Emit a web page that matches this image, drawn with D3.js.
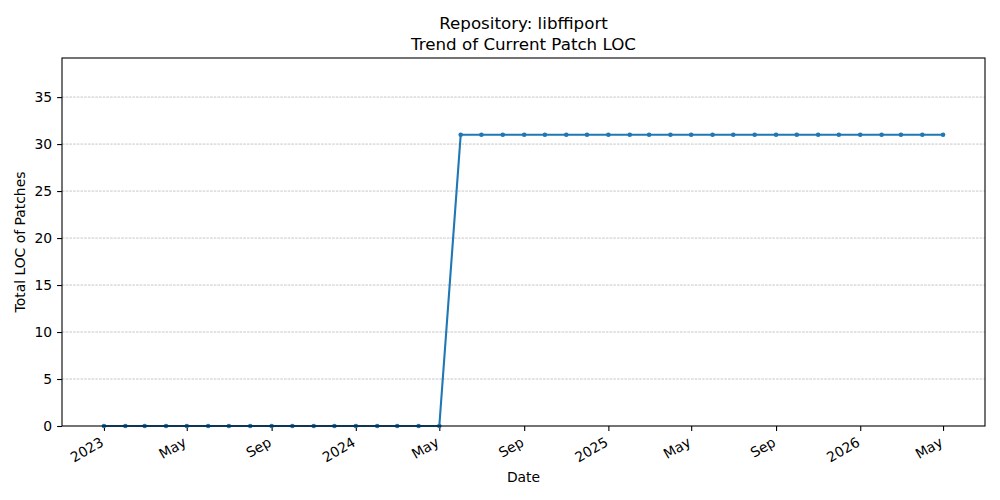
<!DOCTYPE html>
<html>
<head>
<meta charset="utf-8">
<script src="https://cdn.jsdelivr.net/npm/d3@7"></script>
<style>
  body { margin: 0; background: #fff; }
  svg { font-family: "DejaVu Sans", sans-serif; }
</style>
</head>
<body>
<svg id="chart" width="1000" height="500"></svg>
<script>
// dados: um ponto por mês, de jan/2023 até mai/2026
const months = [
  "2023-01","2023-02","2023-03","2023-04","2023-05","2023-06","2023-07","2023-08",
  "2023-09","2023-10","2023-11","2023-12","2024-01","2024-02","2024-03","2024-04",
  "2024-05","2024-06","2024-07","2024-08","2024-09","2024-10","2024-11","2024-12",
  "2025-01","2025-02","2025-03","2025-04","2025-05","2025-06","2025-07","2025-08",
  "2025-09","2025-10","2025-11","2025-12","2026-01","2026-02","2026-03","2026-04",
  "2026-05"
];
const locValues = [
  0,0,0,0,0,0,0,0,0,0,0,0,0,0,0,0,0,
  31,31,31,31,31,31,31,31,31,31,31,31,31,31,31,31,31,31,31,31,31,31,31,31
];
const yTicks = [0, 5, 10, 15, 20, 25, 30, 35];
const xTickDates = ["2023-01","2023-05","2023-09","2024-01","2024-05","2024-09",
                    "2025-01","2025-05","2025-09","2026-01","2026-05"];
const xTickLabels = ["2023","May","Sep","2024","May","Sep","2025","May","Sep","2026","May"];

const parse = d3.utcParse("%Y-%m");
const data = months.map((m, i) => ({ date: parse(m), value: locValues[i] }));

const svg = d3.select("#chart");
const mLeft = 62, mRight = 985, mTop = 58, mBottom = 426;

// margem de 5% como no matplotlib
const [d0, d1] = d3.extent(data, d => d.date);
const pad = (d1 - d0) * 0.05;
const x = d3.scaleUtc().domain([new Date(+d0 - pad), new Date(+d1 + pad)]).range([mLeft, mRight]);
const y = d3.scaleLinear().domain([0, 39.16]).range([mBottom, mTop]);

// grade horizontal
svg.append("g")
  .selectAll("line")
  .data(yTicks.filter(t => t > 0))
  .enter().append("line")
  .attr("x1", mLeft).attr("x2", mRight)
  .attr("y1", d => y(d)).attr("y2", d => y(d))
  .attr("stroke", "#b0b0b0")
  .attr("stroke-width", 0.7)
  .attr("stroke-dasharray", "2.6,1.1");

// eixo y
const yAxis = svg.append("g")
  .attr("transform", `translate(${mLeft},0)`)
  .call(d3.axisLeft(y).tickValues(yTicks).tickSize(4.9).tickPadding(4.9).tickFormat(d3.format("d")));
yAxis.select(".domain").remove();
yAxis.selectAll("text").attr("font-size", "13.9px").attr("fill", "#000").attr("font-family", "DejaVu Sans");
yAxis.selectAll("line").attr("stroke", "#000").attr("stroke-width", 1.1);

// eixo x
const xAxis = svg.append("g")
  .attr("transform", `translate(0,${mBottom})`)
  .call(d3.axisBottom(x)
    .tickValues(xTickDates.map(parse))
    .tickSize(4.9)
    .tickFormat((d, i) => xTickLabels[i]));
xAxis.select(".domain").remove();
xAxis.selectAll("line").attr("stroke", "#000").attr("stroke-width", 1.1);
xAxis.selectAll("text")
  .attr("font-size", "13.9px")
  .attr("fill", "#000")
  .attr("font-family", "DejaVu Sans")
  .attr("text-anchor", "end")
  .attr("dy", null)
  .attr("y", 0)
  .attr("transform", "translate(-5,10) rotate(-30)")
  .attr("dominant-baseline", "hanging");

// linha e marcadores
const line = d3.line().x(d => x(d.date)).y(d => y(d.value));
svg.append("path")
  .datum(data)
  .attr("d", line)
  .attr("fill", "none")
  .attr("stroke", "#1f77b4")
  .attr("stroke-width", 2.1);

svg.append("g")
  .selectAll("circle")
  .data(data)
  .enter().append("circle")
  .attr("cx", d => x(d.date))
  .attr("cy", d => y(d.value))
  .attr("r", 2.3)
  .attr("fill", "#1f77b4");

// moldura
svg.append("rect")
  .attr("x", mLeft).attr("y", mTop)
  .attr("width", mRight - mLeft).attr("height", mBottom - mTop)
  .attr("fill", "none").attr("stroke", "#000").attr("stroke-width", 1.1);

// títulos
svg.append("text")
  .attr("x", (mLeft + mRight) / 2).attr("y", 29)
  .attr("text-anchor", "middle").attr("font-size", "16.7px")
  .text("Repository: libffiport");
svg.append("text")
  .attr("x", (mLeft + mRight) / 2).attr("y", 50)
  .attr("text-anchor", "middle").attr("font-size", "16.7px")
  .text("Trend of Current Patch LOC");

svg.append("text")
  .attr("x", (mLeft + mRight) / 2).attr("y", 482)
  .attr("text-anchor", "middle").attr("font-size", "13.9px")
  .text("Date");

svg.append("text")
  .attr("transform", `translate(25,${(mTop + mBottom) / 2}) rotate(-90)`)
  .attr("text-anchor", "middle").attr("font-size", "13.9px")
  .text("Total LOC of Patches");
</script>
</body>
</html>
